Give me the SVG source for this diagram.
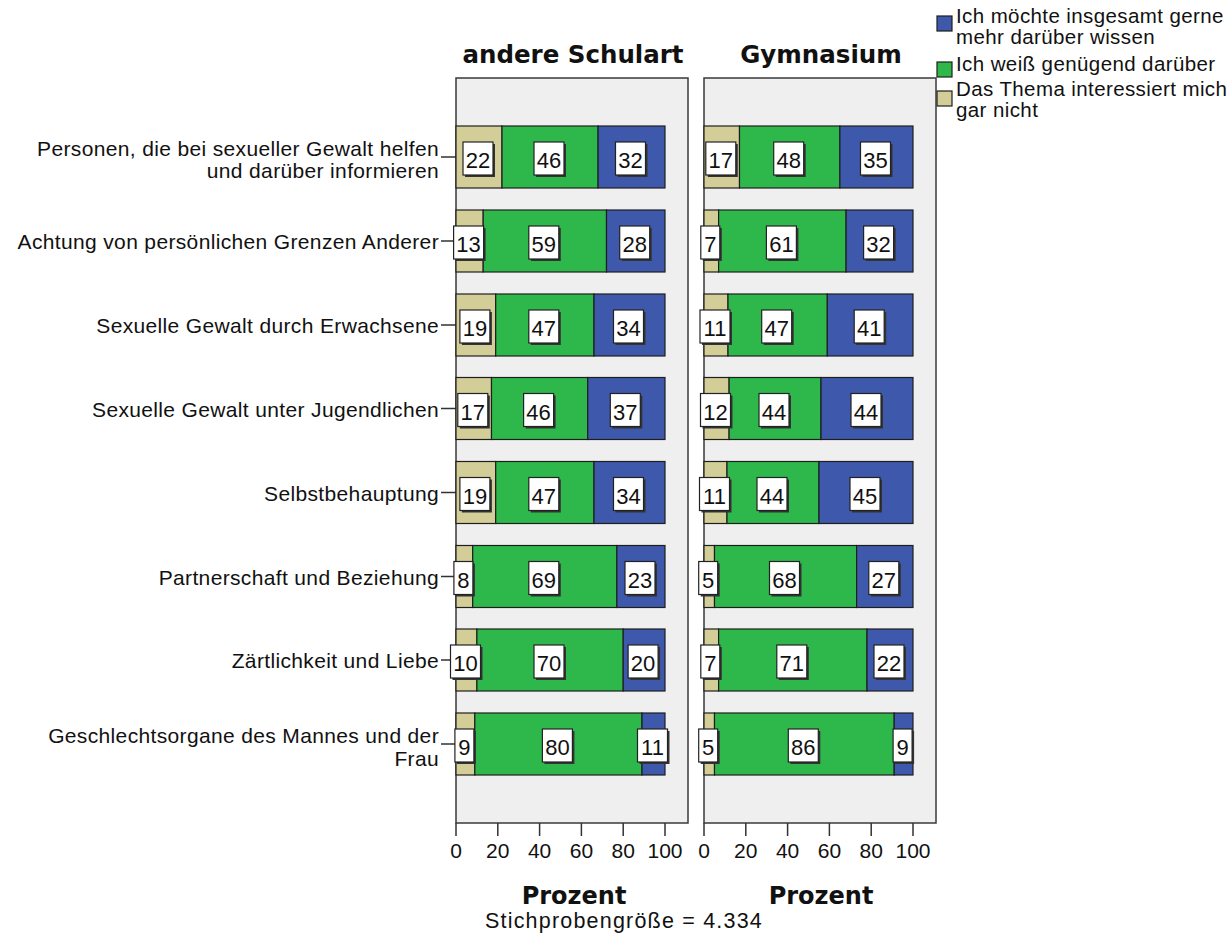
<svg xmlns="http://www.w3.org/2000/svg" width="1232" height="939" viewBox="0 0 1232 939">
<style>
.panel{fill:#efefef;stroke:#3a3a3a;stroke-width:1.5}
.tan{fill:#d3ce97;stroke:#1e1e1e;stroke-width:1.2}
.grn{fill:#2eb84c;stroke:#1e1e1e;stroke-width:1.2}
.blu{fill:#3e58ab;stroke:#1e1e1e;stroke-width:1.2}
.sh{fill:#333}
.bx{fill:#fff;stroke:#222;stroke-width:1.2}
.v{font-family:"Liberation Sans",Arial,sans-serif;font-size:22px;text-anchor:middle;fill:#111}
.cat{font-family:"Liberation Sans",Arial,sans-serif;font-size:21px;text-anchor:end;fill:#111;letter-spacing:0.35px}
.tk{font-family:"Liberation Sans",Arial,sans-serif;font-size:21px;text-anchor:middle;fill:#111}
.ttl{font-family:"DejaVu Sans",Verdana,sans-serif;font-size:24.5px;font-weight:bold;text-anchor:middle;fill:#111}
.ax{font-family:"DejaVu Sans",Verdana,sans-serif;font-size:24px;font-weight:bold;text-anchor:middle;fill:#111}
.leg{font-family:"Liberation Sans",Arial,sans-serif;font-size:20.5px;fill:#111;letter-spacing:0.4px}
.sub{font-family:"Liberation Sans",Arial,sans-serif;font-size:21.5px;text-anchor:middle;fill:#111;letter-spacing:1.2px}
.ln{stroke:#333;stroke-width:1.5;fill:none}
</style>

<g id="titles">
<text class="ttl" x="573" y="62.5">andere Schulart</text>
<text class="ttl" x="821" y="62.5">Gymnasium</text>
</g>

<g id="legend">
<rect class="blu" x="937" y="16" width="15" height="15"/>
<text class="leg" x="956" y="23">Ich möchte insgesamt gerne</text>
<text class="leg" x="956" y="44">mehr darüber wissen</text>
<rect class="grn" x="937" y="62" width="15" height="15"/>
<text class="leg" x="956" y="71">Ich weiß genügend darüber</text>
<rect class="tan" x="937" y="91" width="15" height="15"/>
<text class="leg" x="956" y="96">Das Thema interessiert mich</text>
<text class="leg" x="956" y="117">gar nicht</text>
</g>

<g id="panel-left">
<rect class="panel" x="456" y="78" width="232" height="745"/>
</g>
<g id="panel-right">
<rect class="panel" x="704" y="78" width="232" height="745"/>
</g>

<g id="categories">
<text class="cat" x="439" y="155.5">Personen, die bei sexueller Gewalt helfen</text>
<text class="cat" x="439" y="177.5">und darüber informieren</text>
<text class="cat" x="439" y="249">Achtung von persönlichen Grenzen Anderer</text>
<text class="cat" x="439" y="333">Sexuelle Gewalt durch Erwachsene</text>
<text class="cat" x="439" y="416.5">Sexuelle Gewalt unter Jugendlichen</text>
<text class="cat" x="439" y="500.5">Selbstbehauptung</text>
<text class="cat" x="439" y="584.5">Partnerschaft und Beziehung</text>
<text class="cat" x="439" y="668">Zärtlichkeit und Liebe</text>
<text class="cat" x="439" y="742.5">Geschlechtsorgane des Mannes und der</text>
<text class="cat" x="439" y="765.5">Frau</text>
</g>

<g id="connectors">
<path class="ln" d="M441 157H456M441 241H456M441 325H456M441 408.5H456M441 492.5H456M441 576.5H456M441 660H456M441 744H456"/>
<path class="ln" d="M456 823V836M497.8 823V836M539.6 823V836M581.4 823V836M623.2 823V836M665 823V836"/>
<path class="ln" d="M704 823V836M745.8 823V836M787.6 823V836M829.4 823V836M871.2 823V836M913 823V836"/>
</g>

<g id="bars-left">
<rect class="tan" x="456" y="126" width="46" height="62"/><rect class="grn" x="502" y="126" width="96.1" height="62"/><rect class="blu" x="598.1" y="126" width="66.9" height="62"/>
<rect class="tan" x="456" y="210" width="27.2" height="62"/><rect class="grn" x="483.2" y="210" width="123.3" height="62"/><rect class="blu" x="606.5" y="210" width="58.5" height="62"/>
<rect class="tan" x="456" y="294" width="39.7" height="62"/><rect class="grn" x="495.7" y="294" width="98.3" height="62"/><rect class="blu" x="594" y="294" width="71" height="62"/>
<rect class="tan" x="456" y="377.5" width="35.5" height="62"/><rect class="grn" x="491.5" y="377.5" width="96.2" height="62"/><rect class="blu" x="587.7" y="377.5" width="77.3" height="62"/>
<rect class="tan" x="456" y="461.5" width="39.7" height="62"/><rect class="grn" x="495.7" y="461.5" width="98.3" height="62"/><rect class="blu" x="594" y="461.5" width="71" height="62"/>
<rect class="tan" x="456" y="545.5" width="16.7" height="62"/><rect class="grn" x="472.7" y="545.5" width="144.2" height="62"/><rect class="blu" x="616.9" y="545.5" width="48.1" height="62"/>
<rect class="tan" x="456" y="629" width="20.9" height="62"/><rect class="grn" x="476.9" y="629" width="146.3" height="62"/><rect class="blu" x="623.2" y="629" width="41.8" height="62"/>
<rect class="tan" x="456" y="713" width="18.8" height="62"/><rect class="grn" x="474.8" y="713" width="167.2" height="62"/><rect class="blu" x="642" y="713" width="23" height="62"/>
</g>

<g id="bars-right">
<rect class="tan" x="704" y="126" width="35.5" height="62"/><rect class="grn" x="739.5" y="126" width="100.4" height="62"/><rect class="blu" x="839.9" y="126" width="73.1" height="62"/>
<rect class="tan" x="704" y="210" width="14.6" height="62"/><rect class="grn" x="718.6" y="210" width="127.5" height="62"/><rect class="blu" x="846.1" y="210" width="66.9" height="62"/>
<rect class="tan" x="704" y="294" width="24" height="62"/><rect class="grn" x="728" y="294" width="99.3" height="62"/><rect class="blu" x="827.3" y="294" width="85.7" height="62"/>
<rect class="tan" x="704" y="377.5" width="25.1" height="62"/><rect class="grn" x="729.1" y="377.5" width="91.9" height="62"/><rect class="blu" x="821" y="377.5" width="92" height="62"/>
<rect class="tan" x="704" y="461.5" width="23" height="62"/><rect class="grn" x="727" y="461.5" width="92" height="62"/><rect class="blu" x="819" y="461.5" width="94" height="62"/>
<rect class="tan" x="704" y="545.5" width="10.5" height="62"/><rect class="grn" x="714.5" y="545.5" width="142.1" height="62"/><rect class="blu" x="856.6" y="545.5" width="56.4" height="62"/>
<rect class="tan" x="704" y="629" width="14.6" height="62"/><rect class="grn" x="718.6" y="629" width="148.4" height="62"/><rect class="blu" x="867" y="629" width="46" height="62"/>
<rect class="tan" x="704" y="713" width="10.5" height="62"/><rect class="grn" x="714.5" y="713" width="179.7" height="62"/><rect class="blu" x="894.2" y="713" width="18.8" height="62"/>
</g>

<g id="values-left">
<rect class="sh" x="465" y="144" width="30" height="33"/><rect class="bx" x="463" y="142" width="30" height="33"/><text class="v" x="478" y="168">22</text>
<rect class="sh" x="536" y="144" width="30" height="33"/><rect class="bx" x="534" y="142" width="30" height="33"/><text class="v" x="549" y="168">46</text>
<rect class="sh" x="617.5" y="144" width="30" height="33"/><rect class="bx" x="615.5" y="142" width="30" height="33"/><text class="v" x="630.5" y="168">32</text>

<rect class="sh" x="455.6" y="228" width="30" height="33"/><rect class="bx" x="453.6" y="226" width="30" height="33"/><text class="v" x="468.6" y="252">13</text>
<rect class="sh" x="530.8" y="228" width="30" height="33"/><rect class="bx" x="528.8" y="226" width="30" height="33"/><text class="v" x="543.8" y="252">59</text>
<rect class="sh" x="621.7" y="228" width="30" height="33"/><rect class="bx" x="619.7" y="226" width="30" height="33"/><text class="v" x="634.7" y="252">28</text>

<rect class="sh" x="461.9" y="312" width="30" height="33"/><rect class="bx" x="459.9" y="310" width="30" height="33"/><text class="v" x="474.9" y="336">19</text>
<rect class="sh" x="530.8" y="312" width="30" height="33"/><rect class="bx" x="528.8" y="310" width="30" height="33"/><text class="v" x="543.8" y="336">47</text>
<rect class="sh" x="615.5" y="312" width="30" height="33"/><rect class="bx" x="613.5" y="310" width="30" height="33"/><text class="v" x="628.5" y="336">34</text>

<rect class="sh" x="459.8" y="395.5" width="30" height="33"/><rect class="bx" x="457.8" y="393.5" width="30" height="33"/><text class="v" x="472.8" y="419.5">17</text>
<rect class="sh" x="525.6" y="395.5" width="30" height="33"/><rect class="bx" x="523.6" y="393.5" width="30" height="33"/><text class="v" x="538.6" y="419.5">46</text>
<rect class="sh" x="612.3" y="395.5" width="30" height="33"/><rect class="bx" x="610.3" y="393.5" width="30" height="33"/><text class="v" x="625.3" y="419.5">37</text>

<rect class="sh" x="461.9" y="479.5" width="30" height="33"/><rect class="bx" x="459.9" y="477.5" width="30" height="33"/><text class="v" x="474.9" y="503.5">19</text>
<rect class="sh" x="530.8" y="479.5" width="30" height="33"/><rect class="bx" x="528.8" y="477.5" width="30" height="33"/><text class="v" x="543.8" y="503.5">47</text>
<rect class="sh" x="615.5" y="479.5" width="30" height="33"/><rect class="bx" x="613.5" y="477.5" width="30" height="33"/><text class="v" x="628.5" y="503.5">34</text>

<rect class="sh" x="455.9" y="563.5" width="19" height="33"/><rect class="bx" x="453.9" y="561.5" width="19" height="33"/><text class="v" x="463.4" y="587.5">8</text>
<rect class="sh" x="530.8" y="563.5" width="30" height="33"/><rect class="bx" x="528.8" y="561.5" width="30" height="33"/><text class="v" x="543.8" y="587.5">69</text>
<rect class="sh" x="627" y="563.5" width="30" height="33"/><rect class="bx" x="625" y="561.5" width="30" height="33"/><text class="v" x="640" y="587.5">23</text>

<rect class="sh" x="452.5" y="647" width="30" height="33"/><rect class="bx" x="450.5" y="645" width="30" height="33"/><text class="v" x="465.5" y="671">10</text>
<rect class="sh" x="536" y="647" width="30" height="33"/><rect class="bx" x="534" y="645" width="30" height="33"/><text class="v" x="549" y="671">70</text>
<rect class="sh" x="630.1" y="647" width="30" height="33"/><rect class="bx" x="628.1" y="645" width="30" height="33"/><text class="v" x="643.1" y="671">20</text>

<rect class="sh" x="456.9" y="731" width="19" height="33"/><rect class="bx" x="454.9" y="729" width="19" height="33"/><text class="v" x="464.4" y="755">9</text>
<rect class="sh" x="544.4" y="731" width="30" height="33"/><rect class="bx" x="542.4" y="729" width="30" height="33"/><text class="v" x="557.4" y="755">80</text>
<rect class="sh" x="639.5" y="731" width="30" height="33"/><rect class="bx" x="637.5" y="729" width="30" height="33"/><text class="v" x="652.5" y="755">11</text>
</g>

<g id="values-right">
<rect class="sh" x="707.8" y="144" width="30" height="33"/><rect class="bx" x="705.8" y="142" width="30" height="33"/><text class="v" x="720.8" y="168">17</text>
<rect class="sh" x="775.7" y="144" width="30" height="33"/><rect class="bx" x="773.7" y="142" width="30" height="33"/><text class="v" x="788.7" y="168">48</text>
<rect class="sh" x="862.5" y="144" width="30" height="33"/><rect class="bx" x="860.5" y="142" width="30" height="33"/><text class="v" x="875.5" y="168">35</text>

<rect class="sh" x="702.8" y="228" width="19" height="33"/><rect class="bx" x="700.8" y="226" width="19" height="33"/><text class="v" x="710.3" y="252">7</text>
<rect class="sh" x="768.4" y="228" width="30" height="33"/><rect class="bx" x="766.4" y="226" width="30" height="33"/><text class="v" x="781.4" y="252">61</text>
<rect class="sh" x="865.6" y="228" width="30" height="33"/><rect class="bx" x="863.6" y="226" width="30" height="33"/><text class="v" x="878.6" y="252">32</text>

<rect class="sh" x="702" y="312" width="30" height="33"/><rect class="bx" x="700" y="310" width="30" height="33"/><text class="v" x="715" y="336">11</text>
<rect class="sh" x="763.7" y="312" width="30" height="33"/><rect class="bx" x="761.7" y="310" width="30" height="33"/><text class="v" x="776.7" y="336">47</text>
<rect class="sh" x="856.2" y="312" width="30" height="33"/><rect class="bx" x="854.2" y="310" width="30" height="33"/><text class="v" x="869.2" y="336">41</text>

<rect class="sh" x="702.5" y="395.5" width="30" height="33"/><rect class="bx" x="700.5" y="393.5" width="30" height="33"/><text class="v" x="715.5" y="419.5">12</text>
<rect class="sh" x="761" y="395.5" width="30" height="33"/><rect class="bx" x="759" y="393.5" width="30" height="33"/><text class="v" x="774" y="419.5">44</text>
<rect class="sh" x="853" y="395.5" width="30" height="33"/><rect class="bx" x="851" y="393.5" width="30" height="33"/><text class="v" x="866" y="419.5">44</text>

<rect class="sh" x="701.5" y="479.5" width="30" height="33"/><rect class="bx" x="699.5" y="477.5" width="30" height="33"/><text class="v" x="714.5" y="503.5">11</text>
<rect class="sh" x="759" y="479.5" width="30" height="33"/><rect class="bx" x="757" y="477.5" width="30" height="33"/><text class="v" x="772" y="503.5">44</text>
<rect class="sh" x="852" y="479.5" width="30" height="33"/><rect class="bx" x="850" y="477.5" width="30" height="33"/><text class="v" x="865" y="503.5">45</text>

<rect class="sh" x="700.7" y="563.5" width="19" height="33"/><rect class="bx" x="698.7" y="561.5" width="19" height="33"/><text class="v" x="708.2" y="587.5">5</text>
<rect class="sh" x="771.5" y="563.5" width="30" height="33"/><rect class="bx" x="769.5" y="561.5" width="30" height="33"/><text class="v" x="784.5" y="587.5">68</text>
<rect class="sh" x="870.8" y="563.5" width="30" height="33"/><rect class="bx" x="868.8" y="561.5" width="30" height="33"/><text class="v" x="883.8" y="587.5">27</text>

<rect class="sh" x="702.8" y="647" width="19" height="33"/><rect class="bx" x="700.8" y="645" width="19" height="33"/><text class="v" x="710.3" y="671">7</text>
<rect class="sh" x="778.8" y="647" width="30" height="33"/><rect class="bx" x="776.8" y="645" width="30" height="33"/><text class="v" x="791.8" y="671">71</text>
<rect class="sh" x="876" y="647" width="30" height="33"/><rect class="bx" x="874" y="645" width="30" height="33"/><text class="v" x="889" y="671">22</text>

<rect class="sh" x="700.7" y="731" width="19" height="33"/><rect class="bx" x="698.7" y="729" width="19" height="33"/><text class="v" x="708.2" y="755">5</text>
<rect class="sh" x="790.3" y="731" width="30" height="33"/><rect class="bx" x="788.3" y="729" width="30" height="33"/><text class="v" x="803.3" y="755">86</text>
<rect class="sh" x="895.1" y="731" width="19" height="33"/><rect class="bx" x="893.1" y="729" width="19" height="33"/><text class="v" x="902.6" y="755">9</text>
</g>

<g id="axis-left">
<text class="tk" x="456" y="857.5">0</text>
<text class="tk" x="497.8" y="857.5">20</text>
<text class="tk" x="539.6" y="857.5">40</text>
<text class="tk" x="581.4" y="857.5">60</text>
<text class="tk" x="623.2" y="857.5">80</text>
<text class="tk" x="665" y="857.5">100</text>
<text class="ax" x="574" y="904">Prozent</text>
</g>
<g id="axis-right">
<text class="tk" x="704" y="857.5">0</text>
<text class="tk" x="745.8" y="857.5">20</text>
<text class="tk" x="787.6" y="857.5">40</text>
<text class="tk" x="829.4" y="857.5">60</text>
<text class="tk" x="871.2" y="857.5">80</text>
<text class="tk" x="913" y="857.5">100</text>
<text class="ax" x="821" y="904">Prozent</text>
</g>
<text class="sub" x="624" y="928">Stichprobengröße = 4.334</text>
</svg>
